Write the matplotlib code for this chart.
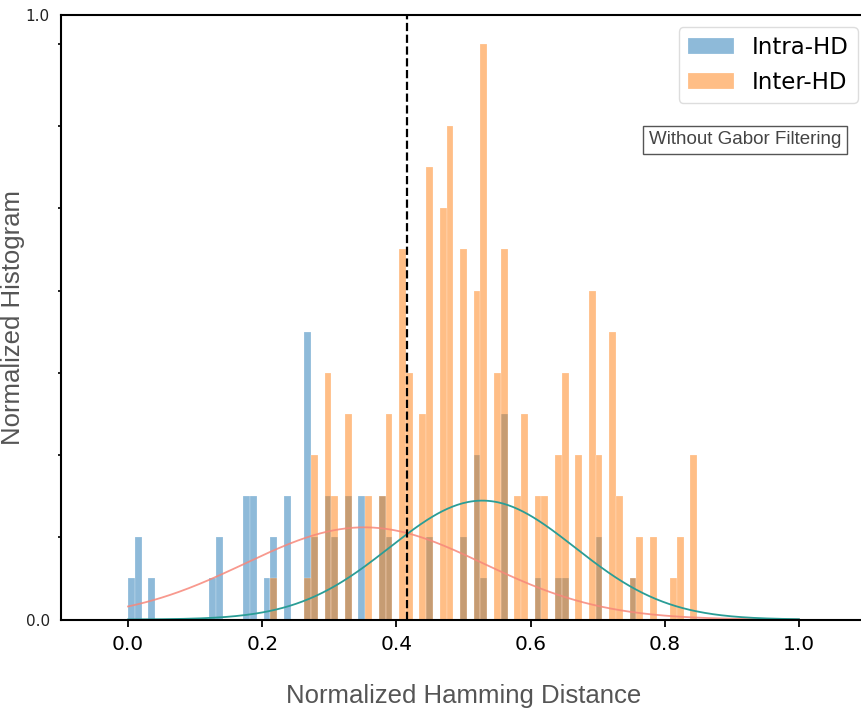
import numpy as np
import matplotlib
matplotlib.use("Agg")
import matplotlib.pyplot as plt

# Histogram bins: 99 equal bins over [0, 1]
bin_edges = np.linspace(0, 1, 100)

# Intra-HD counts (bin index -> count)
intra_bins = [0, 1, 3, 12, 13, 17, 18, 20, 21, 23, 26, 27, 29, 30, 32, 34, 37, 38,
              44, 49, 51, 52, 55, 60, 63, 64, 69, 74]
intra_counts = [1, 2, 1, 1, 2, 3, 3, 1, 2, 3, 7, 2, 3, 2, 3, 3, 3, 2,
                2, 2, 4, 1, 5, 1, 1, 1, 2, 1]

# Inter-HD counts (bin index -> count)
inter_bins = [21, 26, 27, 29, 30, 32, 35, 37, 38, 40, 41, 43, 44, 46, 47, 49, 51, 52,
              54, 55, 57, 58, 60, 61, 63, 64, 66, 68, 69, 71, 72, 74, 75, 77, 80, 81, 83]
inter_counts = [1, 1, 4, 6, 3, 5, 3, 3, 5, 9, 6, 5, 11, 10, 12, 9, 8, 14,
                6, 9, 3, 5, 3, 3, 4, 6, 4, 8, 4, 7, 3, 1, 2, 2, 1, 2, 4]

# Fitted normal distributions
intra_mu, intra_sigma = 0.352, 0.178
inter_mu, inter_sigma = 0.528, 0.138

threshold = 0.4154

x_ticks = [0.0, 0.2, 0.4, 0.6, 0.8, 1.0]
y_tick_labels = ["0.0", "1.0"]


def normal_pdf(x, mu, sigma):
    return np.exp(-0.5 * ((x - mu) / sigma) ** 2) / (sigma * np.sqrt(2 * np.pi))


fig = plt.figure(figsize=(8.61, 7.13), dpi=100)
ax = fig.add_axes([61 / 861, 93.5 / 713, 805 / 861, 604.5 / 713])

centers = (bin_edges[:-1] + bin_edges[1:]) / 2
ax.hist(centers[intra_bins], bins=bin_edges, weights=intra_counts,
        color="#1f77b4", alpha=0.5, edgecolor="white", linewidth=0.3, label="Intra-HD")
ax.hist(centers[inter_bins], bins=bin_edges, weights=inter_counts,
        color="#ff7f0e", alpha=0.5, edgecolor="white", linewidth=0.3, label="Inter-HD")

xs = np.linspace(0, 1, 400)
ax.plot(xs, normal_pdf(xs, intra_mu, intra_sigma), color="#f7877a", lw=1.3, alpha=0.85)
ax.plot(xs, normal_pdf(xs, inter_mu, inter_sigma), color="#2a9d96", lw=1.3)

ax.axvline(threshold, color="black", linestyle="--", linewidth=1.6)

top = 1.05 * max(inter_counts)
ax.set_xlim(-0.1, 1.1)
ax.set_ylim(0, top)

ax.set_xticks(x_ticks)
ax.set_xticklabels([f"{t:.1f}" for t in x_ticks], fontsize=14.5)
ax.set_yticks([0, top])
ax.set_yticklabels(y_tick_labels, fontsize=11, color="#222222")
ax.set_yticks(np.arange(2, top, 2), minor=True)
ax.tick_params(axis="y", which="major", length=0, pad=8)
ax.tick_params(axis="y", which="minor", length=2.5, width=1.2, direction="out")
ax.tick_params(axis="x", which="major", length=5, width=1.3, direction="out", pad=6)

for s in ax.spines.values():
    s.set_linewidth(1.5)

ax.set_xlabel("Normalized Hamming Distance", fontsize=18.5, color="#555555",
              family="Liberation Sans", labelpad=22)
ax.set_ylabel("Normalized Histogram", fontsize=18.5, color="#555555",
              family="Liberation Sans")
ax.yaxis.set_label_coords((25 - 61) / 805, 0.5)

ax.legend(loc="upper right", bbox_to_anchor=(858 / 861, 1 - 27 / 713),
          bbox_transform=fig.transFigure, borderaxespad=0, fontsize=16.5,
          framealpha=1, edgecolor="#dddddd", handlelength=2.0, handleheight=0.7)

fig.text(745 / 861, 1 - 140 / 713, "Without Gabor Filtering", ha="center", va="center",
         fontsize=13.5, color="#444444", family="Liberation Sans",
         bbox=dict(boxstyle="square,pad=0.3", facecolor="white", edgecolor="#555555", linewidth=1))

fig.savefig("out.png", dpi=100)
